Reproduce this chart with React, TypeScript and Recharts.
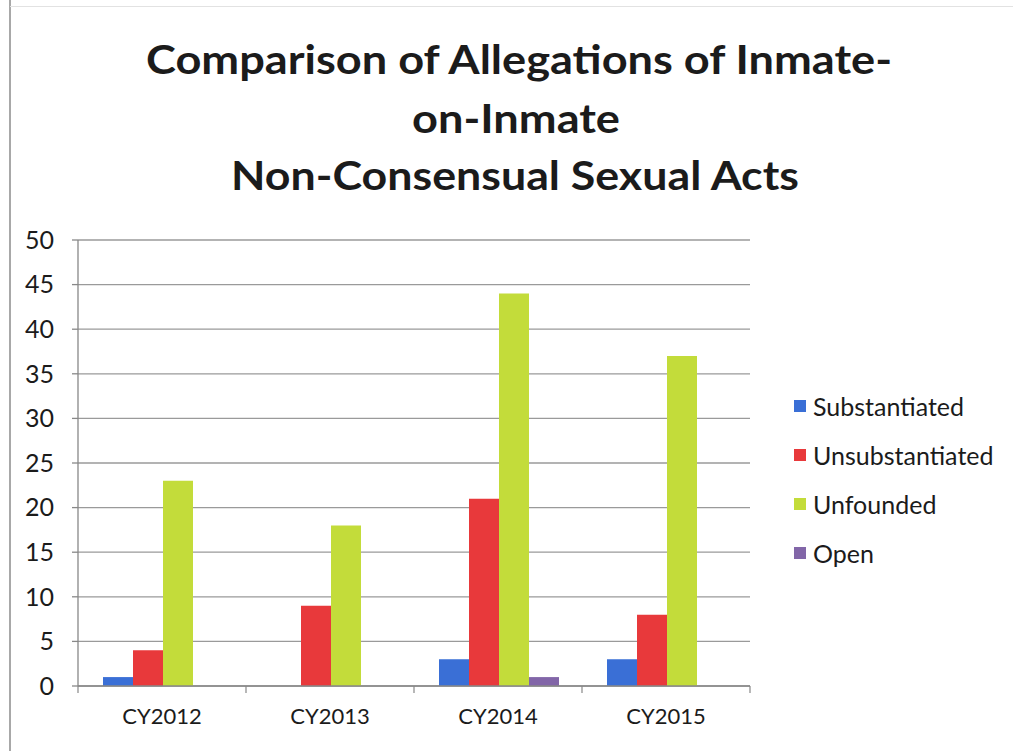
import React from 'react'
import { BarChart, Bar, XAxis, YAxis, CartesianGrid } from 'recharts'

const years = ['CY2012', 'CY2013', 'CY2014', 'CY2015']
const substantiated = [1, 0, 3, 3]
const unsubstantiated = [4, 9, 21, 8]
const unfounded = [23, 18, 44, 37]
const open = [0, 0, 1, 0]
const yTicks = [0, 5, 10, 15, 20, 25, 30, 35, 40, 45, 50]
const titleLines = ['Comparison of Allegations of Inmate-', 'on-Inmate', 'Non-Consensual Sexual Acts']

const series = [
  { key: 'Substantiated', color: '#3a6fd6' },
  { key: 'Unsubstantiated', color: '#e8393b' },
  { key: 'Unfounded', color: '#c3dc3a' },
  { key: 'Open', color: '#8266a8' },
]

const data = years.map((year, i) => ({
  year,
  Substantiated: substantiated[i],
  Unsubstantiated: unsubstantiated[i],
  Unfounded: unfounded[i],
  Open: open[i],
}))

const FONT = 'Lato, "Open Sans", sans-serif'
const TEXT = '#1b1b1b'

// title widths/positions
const titleLayout = [
  { x: 146, y: 74, w: 746 },
  { x: 412, y: 133, w: 208 },
  { x: 231, y: 190, w: 568 },
]

function XTick(props: any) {
  const { x, y, payload, index } = props
  const half = payload?.offset ?? 84
  return (
    <g>
      <line x1={x - half} x2={x - half} y1={y - 8} y2={y - 1} stroke="#888" strokeWidth={1.2} />
      {index === years.length - 1 && (
        <line x1={x + half} x2={x + half} y1={y - 8} y2={y - 1} stroke="#888" strokeWidth={1.2} />
      )}
      <text x={x} y={y + 30} textAnchor="middle" fontSize={22} fill={TEXT} fontFamily={FONT}>
        {payload.value}
      </text>
    </g>
  )
}

function LegendBox() {
  return (
    <div style={{ position: 'absolute', left: 794, top: 381, fontFamily: FONT, color: TEXT }}>
      {series.map((s) => (
        <div key={s.key} style={{ display: 'flex', alignItems: 'center', height: 49 }}>
          <span style={{ width: 12, height: 12, background: s.color, marginRight: 7, display: 'inline-block' }} />
          <span style={{ fontSize: 25 }}>{s.key}</span>
        </div>
      ))}
    </div>
  )
}

export default function App() {
  return (
    <div style={{ position: 'absolute', left: 0, top: 0, width: 1013, height: 751, background: '#fff' }}>
      <div style={{ position: 'absolute', left: 9, top: 0, width: 2, height: 751, background: '#a8a8a8' }} />
      <div style={{ position: 'absolute', left: 10, top: 6, width: 1003, height: 1, background: '#e2e2e2' }} />
      <svg width={1013} height={220} style={{ position: 'absolute', left: 0, top: 0 }}>
        {titleLines.map((t, i) => (
          <text
            key={t}
            x={titleLayout[i].x}
            y={titleLayout[i].y}
            textLength={titleLayout[i].w}
            lengthAdjust="spacingAndGlyphs"
            fontSize={40}
            fontWeight="bold"
            fontFamily={FONT}
            fill={TEXT}
          >
            {t}
          </text>
        ))}
      </svg>
      <div style={{ position: 'absolute', left: 0, top: 0 }}>
        <BarChart
          width={1013}
          height={751}
          data={data}
          margin={{ top: 240, right: 263, bottom: 0, left: 0 }}
          barCategoryGap={25}
          barGap={0}
        >
          <CartesianGrid vertical={false} stroke="#9a9a9a" strokeWidth={1.3} />
          <XAxis
            dataKey="year"
            height={65}
            stroke="#888"
            strokeWidth={1.3}
            tickLine={false}
            tick={<XTick />}
            interval={0}
          />
          <YAxis
            width={78}
            domain={[0, 50]}
            ticks={yTicks}
            interval={0}
            stroke="#888"
            strokeWidth={1.3}
            tickSize={6}
            tickMargin={18}
            tick={{ fontSize: 25, fill: TEXT, fontFamily: FONT }}
          />
          {series.map((s) => (
            <Bar key={s.key} dataKey={s.key} fill={s.color} isAnimationActive={false} />
          ))}
        </BarChart>
      </div>
      <LegendBox />
    </div>
  )
}
